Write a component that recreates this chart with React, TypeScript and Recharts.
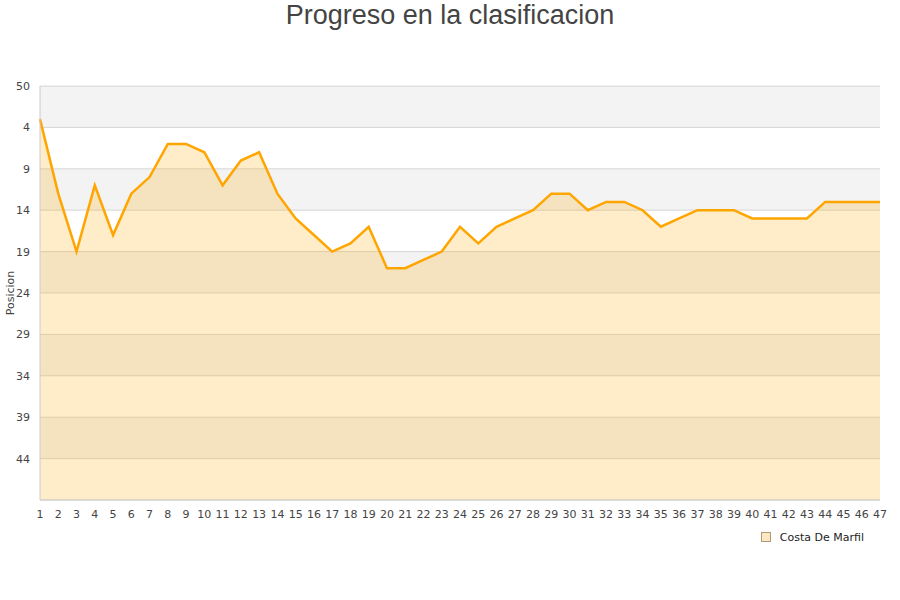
import { ComposedChart, Area, XAxis, YAxis, CartesianGrid, ReferenceArea, Legend } from "recharts";

const jornadas = [
  1, 2, 3, 4, 5, 6, 7, 8, 9, 10, 11, 12, 13, 14, 15, 16, 17, 18, 19, 20, 21, 22, 23, 24,
  25, 26, 27, 28, 29, 30, 31, 32, 33, 34, 35, 36, 37, 38, 39, 40, 41, 42, 43, 44, 45, 46, 47,
];
const posiciones = [
  3, 12, 19, 11, 17, 12, 10, 6, 6, 7, 11, 8, 7, 12, 15, 17, 19, 18, 16, 21, 21, 20, 19, 16,
  18, 16, 15, 14, 12, 12, 14, 13, 13, 14, 16, 15, 14, 14, 14, 15, 15, 15, 15, 13, 13, 13, 13,
];
const yTicks = [-1, 4, 9, 14, 19, 24, 29, 34, 39, 44];
const yTickLabels = ["50", "4", "9", "14", "19", "24", "29", "34", "39", "44"];
const bands: [number, number][] = [
  [-1, 4],
  [9, 14],
  [19, 24],
  [29, 34],
  [39, 44],
];
const seriesName = "Costa De Marfil";

const data = jornadas.map((j, i) => ({ jornada: j, pos: posiciones[i] }));

const font = "'DejaVu Sans', Verdana, sans-serif";

function LegendBox() {
  return (
    <div style={{ display: "flex", justifyContent: "flex-end", alignItems: "center", height: 14, paddingRight: 16, fontFamily: font, fontSize: 11, color: "#222" }}>
      <span style={{ width: 8, height: 8, background: "#fde8c2", border: "1px solid #b09a78", marginRight: 9 }} />
      <span>{seriesName}</span>
    </div>
  );
}

export default function App() {
  return (
    <div style={{ position: "absolute", left: 0, top: 0, width: 900, height: 600, background: "#fff" }}>
      <div
        style={{
          position: "absolute",
          top: 0,
          left: 0,
          width: 900,
          textAlign: "center",
          fontFamily: "'Liberation Sans', Arial, sans-serif",
          fontSize: 27,
          lineHeight: "30px",
          color: "#444",
        }}
      >
        Progreso en la clasificacion
      </div>
      <ComposedChart width={900} height={600} data={data} margin={{ top: 86, right: 20, left: 0, bottom: 56 }}>
        <CartesianGrid vertical={false} stroke="#dcdcdc" />
        {bands.map(([a, b]) => (
          <ReferenceArea key={a} y1={a} y2={b} fill="#000" fillOpacity={0.047} stroke="none" ifOverflow="visible" />
        ))}
        <XAxis
          dataKey="jornada"
          type="number"
          domain={[1, 47]}
          ticks={jornadas}
          interval={0}
          height={30}
          tickLine={false}
          tickMargin={4}
          axisLine={{ stroke: "#cccccc" }}
          tick={{ fontSize: 11, fill: "#444", fontFamily: font }}
        />
        <YAxis
          reversed
          type="number"
          domain={[-1, 49]}
          ticks={yTicks}
          interval={0}
          width={40}
          tickLine={false}
          tickMargin={4}
          axisLine={{ stroke: "#cccccc" }}
          tick={{ fontSize: 11, fill: "#444", fontFamily: font }}
          tickFormatter={(v: number) => yTickLabels[yTicks.indexOf(v)] ?? ""}
          label={{ value: "Posicion", angle: -90, position: "insideLeft", offset: 10, style: { fontSize: 11, fill: "#444", fontFamily: font, textAnchor: "middle" } }}
        />
        <YAxis
          yAxisId="borde"
          orientation="right"
          width={0}
          tick={false}
          tickLine={false}
          axisLine={{ stroke: "#cccccc" }}
        />
        <Area
          type="linear"
          dataKey="pos"
          name={seriesName}
          stroke="#ffa500"
          strokeWidth={2.5}
          fill="#ffa500"
          fillOpacity={0.21}
          baseValue={49}
          dot={false}
          isAnimationActive={false}
        />
        <Legend verticalAlign="bottom" align="right" content={<LegendBox />} />
      </ComposedChart>
    </div>
  );
}
